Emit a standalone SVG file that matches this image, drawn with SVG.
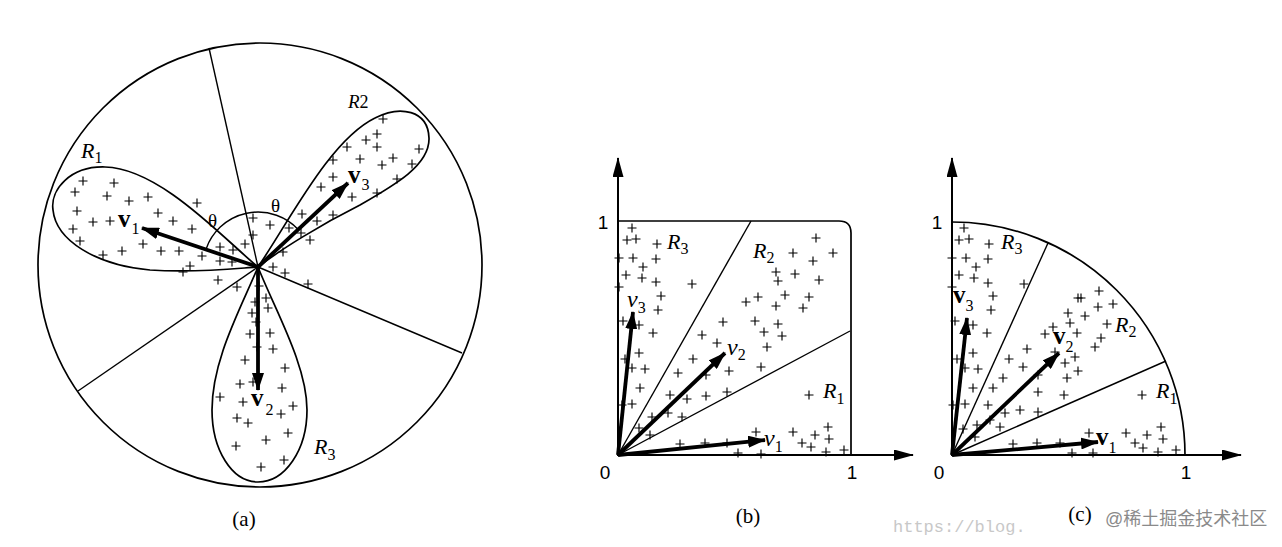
<svg xmlns="http://www.w3.org/2000/svg" xmlns:xlink="http://www.w3.org/1999/xlink" width="1282" height="547" viewBox="0 0 1282 547">
<style>
.thin{fill:none;stroke:#000;stroke-width:1.4}
.mid{fill:none;stroke:#000;stroke-width:1.7}
.axis{fill:none;stroke:#000;stroke-width:2}
.vec{fill:none;stroke:#000;stroke-width:3.8}
.pl{stroke:#000;stroke-width:1.15;fill:none}
.R{font-family:"Liberation Serif",serif;font-style:italic;font-size:22px}
.sub{font-family:"Liberation Serif",serif;font-style:normal;font-weight:normal;font-size:16px}
.vb{font-family:"Liberation Serif",serif;font-weight:bold;font-size:25px}
.vi{font-family:"Liberation Serif",serif;font-style:italic;font-size:24px}
.num{font-family:"Liberation Sans",sans-serif;font-size:19px}
.cap{font-family:"Liberation Serif",serif;font-size:21px}
.th{font-family:"Liberation Serif",serif;font-size:19px}
</style>
<defs>
<path id="p" class="pl" d="M-4.5 0H4.5M0 -4.5V4.5"/>
<marker id="ah" markerUnits="userSpaceOnUse" viewBox="0 0 18 12" refX="17" refY="6" markerWidth="18" markerHeight="12" orient="auto"><path d="M0 0L18 6L0 12z" fill="#000"/></marker>
<marker id="ax" markerUnits="userSpaceOnUse" viewBox="0 0 20 11" refX="19" refY="5.5" markerWidth="20" markerHeight="11" orient="auto"><path d="M0 0L20 5.5L0 11z" fill="#000"/></marker>
</defs>
<rect width="1282" height="547" fill="#fff"/>

<!-- Panel (a) -->
<g id="panel-a">
<circle class="mid" cx="260" cy="265" r="222"/>
<g id="a-sectors">
<line class="thin" x1="258" y1="267" x2="209" y2="48"/>
<line class="thin" x1="258" y1="267" x2="78" y2="391"/>
<line class="thin" x1="258" y1="267" x2="462" y2="353"/>
</g>
<g id="a-petal-R1"><path class="mid" d="M258 267C225 240 160 168 105 167C70 166 50 190 53 210C56 240 95 265 150 270C200 273 240 268 258 267Z"/></g>
<g id="a-petal-R2"><path class="mid" d="M258 267C290 220 330 140 375 118C400 105 428 110 429 138C430 165 395 185 360 205C320 225 280 250 258 267Z"/></g>
<g id="a-petal-R3"><path class="mid" d="M258 267C240 310 212 360 212 410C212 450 232 482 258 482C285 482 307 450 307 410C307 365 275 310 258 267Z"/></g>
<path class="thin" d="M206.1 248.9A55 55 0 0 1 298.2 229.5"/>
<g id="a-points">
<use href="#p" x="83" y="181"/><use href="#p" x="114" y="183"/><use href="#p" x="75" y="192"/><use href="#p" x="107" y="196"/><use href="#p" x="129" y="201"/><use href="#p" x="148" y="197"/><use href="#p" x="197" y="203"/><use href="#p" x="77" y="211"/><use href="#p" x="158" y="213"/><use href="#p" x="93" y="222"/><use href="#p" x="110" y="221"/><use href="#p" x="173" y="221"/><use href="#p" x="73" y="229"/><use href="#p" x="192" y="229"/><use href="#p" x="80" y="241"/><use href="#p" x="122" y="251"/><use href="#p" x="143" y="244"/><use href="#p" x="103" y="255"/><use href="#p" x="161" y="251"/><use href="#p" x="179" y="251"/><use href="#p" x="220" y="247"/><use href="#p" x="233" y="250"/><use href="#p" x="245" y="244"/><use href="#p" x="202" y="256"/><use href="#p" x="190" y="266"/><use href="#p" x="183" y="272"/><use href="#p" x="220" y="261"/><use href="#p" x="232" y="262"/><use href="#p" x="218" y="280"/><use href="#p" x="237" y="287"/><use href="#p" x="253" y="218"/><use href="#p" x="270" y="225"/><use href="#p" x="253" y="235"/>
<use href="#p" x="383" y="119"/><use href="#p" x="377" y="134"/><use href="#p" x="366" y="140"/><use href="#p" x="377" y="147"/><use href="#p" x="347" y="147"/><use href="#p" x="419" y="149"/><use href="#p" x="333" y="160"/><use href="#p" x="360" y="159"/><use href="#p" x="393" y="158"/><use href="#p" x="382" y="165"/><use href="#p" x="412" y="164"/><use href="#p" x="333" y="177"/><use href="#p" x="397" y="179"/><use href="#p" x="321" y="187"/><use href="#p" x="352" y="197"/><use href="#p" x="377" y="193"/><use href="#p" x="302" y="214"/><use href="#p" x="317" y="221"/><use href="#p" x="333" y="215"/><use href="#p" x="289" y="228"/><use href="#p" x="301" y="233"/><use href="#p" x="310" y="240"/><use href="#p" x="283" y="252"/><use href="#p" x="273" y="267"/><use href="#p" x="285" y="273"/><use href="#p" x="308" y="284"/>
<use href="#p" x="259" y="286"/><use href="#p" x="255" y="302"/><use href="#p" x="266" y="298"/><use href="#p" x="268" y="308"/><use href="#p" x="252" y="313"/><use href="#p" x="256" y="322"/><use href="#p" x="250" y="334"/><use href="#p" x="270" y="333"/><use href="#p" x="257" y="347"/><use href="#p" x="273" y="349"/><use href="#p" x="245" y="360"/><use href="#p" x="285" y="368"/><use href="#p" x="240" y="384"/><use href="#p" x="253" y="382"/><use href="#p" x="282" y="388"/><use href="#p" x="220" y="397"/><use href="#p" x="243" y="402"/><use href="#p" x="293" y="406"/><use href="#p" x="281" y="414"/><use href="#p" x="237" y="418"/><use href="#p" x="248" y="423"/><use href="#p" x="288" y="433"/><use href="#p" x="266" y="440"/><use href="#p" x="236" y="446"/><use href="#p" x="284" y="460"/><use href="#p" x="261" y="467"/>
</g>
<g id="a-vectors">
<line class="vec" x1="258" y1="267" x2="142" y2="228" marker-end="url(#ah)"/>
<line class="vec" x1="258" y1="267" x2="348" y2="183" marker-end="url(#ah)"/>
<line class="vec" x1="258" y1="267" x2="258" y2="390" marker-end="url(#ah)"/>
</g>
<text class="R" x="81" y="158">R<tspan class="sub" dy="5">1</tspan></text>
<text class="R" x="348" y="108" style="font-size:19px">R<tspan class="sub" style="font-size:18px">2</tspan></text>
<text class="R" x="314" y="454">R<tspan class="sub" dy="6">3</tspan></text>
<text class="vb" x="118" y="227">v<tspan class="sub" dx="1" dy="7">1</tspan></text>
<text class="vb" x="348" y="183">v<tspan class="sub" dx="1" dy="7">3</tspan></text>
<text class="vb" x="251" y="406">v<tspan class="sub" dx="2" dy="9">2</tspan></text>
<text class="th" x="208" y="227">θ</text>
<text class="th" x="271" y="212">θ</text>
<text class="cap" x="244" y="526" text-anchor="middle">(a)</text>
</g>

<!-- Panel (b) -->
<g id="panel-b">
<g id="b-axes">
<line class="axis" x1="618" y1="456" x2="618" y2="158" marker-end="url(#ax)"/>
<line class="axis" x1="617" y1="455" x2="913" y2="455" marker-end="url(#ax)"/>
</g>
<path class="mid" d="M618 221H839Q851 221 851 233V455"/>
<line class="thin" x1="618" y1="455" x2="751" y2="221"/>
<line class="thin" x1="618" y1="455" x2="850" y2="331"/>
<g id="b-points">
<use href="#p" x="632" y="228"/><use href="#p" x="627" y="240"/><use href="#p" x="636" y="239"/><use href="#p" x="657" y="244"/><use href="#p" x="619" y="258"/><use href="#p" x="633" y="258"/><use href="#p" x="656" y="259"/><use href="#p" x="643" y="267"/><use href="#p" x="626" y="275"/><use href="#p" x="642" y="278"/><use href="#p" x="656" y="282"/><use href="#p" x="692" y="284"/><use href="#p" x="619" y="287"/><use href="#p" x="661" y="296"/><use href="#p" x="746" y="302"/>
<use href="#p" x="658" y="310"/><use href="#p" x="623" y="321"/><use href="#p" x="639" y="325"/><use href="#p" x="653" y="333"/><use href="#p" x="723" y="322"/><use href="#p" x="702" y="335"/><use href="#p" x="717" y="343"/><use href="#p" x="639" y="353"/><use href="#p" x="625" y="359"/><use href="#p" x="632" y="368"/><use href="#p" x="645" y="369"/><use href="#p" x="693" y="359"/><use href="#p" x="678" y="373"/><use href="#p" x="729" y="371"/><use href="#p" x="706" y="375"/><use href="#p" x="640" y="388"/><use href="#p" x="670" y="395"/><use href="#p" x="687" y="399"/><use href="#p" x="706" y="396"/><use href="#p" x="727" y="392"/><use href="#p" x="632" y="404"/><use href="#p" x="622" y="405"/><use href="#p" x="652" y="417"/><use href="#p" x="668" y="413"/><use href="#p" x="682" y="417"/><use href="#p" x="639" y="428"/><use href="#p" x="650" y="435"/><use href="#p" x="680" y="444"/><use href="#p" x="705" y="443"/><use href="#p" x="727" y="443"/><use href="#p" x="738" y="453"/>
<use href="#p" x="816" y="238"/><use href="#p" x="793" y="253"/><use href="#p" x="813" y="261"/><use href="#p" x="833" y="253"/><use href="#p" x="776" y="272"/><use href="#p" x="778" y="281"/><use href="#p" x="795" y="274"/><use href="#p" x="819" y="280"/><use href="#p" x="758" y="297"/><use href="#p" x="776" y="306"/><use href="#p" x="785" y="295"/><use href="#p" x="809" y="297"/><use href="#p" x="803" y="308"/><use href="#p" x="755" y="321"/><use href="#p" x="764" y="332"/><use href="#p" x="778" y="324"/><use href="#p" x="782" y="336"/><use href="#p" x="767" y="347"/><use href="#p" x="761" y="367"/><use href="#p" x="809" y="395"/><use href="#p" x="756" y="432"/><use href="#p" x="793" y="432"/><use href="#p" x="802" y="443"/><use href="#p" x="815" y="435"/><use href="#p" x="828" y="427"/><use href="#p" x="829" y="439"/><use href="#p" x="811" y="447"/><use href="#p" x="826" y="452"/><use href="#p" x="844" y="450"/><use href="#p" x="761" y="454"/>
</g>
<g id="b-vectors">
<line class="vec" x1="618" y1="455" x2="633" y2="312" marker-end="url(#ah)"/>
<line class="vec" x1="618" y1="455" x2="725" y2="353" marker-end="url(#ah)"/>
<line class="vec" x1="618" y1="455" x2="765" y2="440" marker-end="url(#ah)"/>
</g>
<text class="R" x="667" y="249">R<tspan class="sub" dy="5">3</tspan></text>
<text class="R" x="753" y="258">R<tspan class="sub" dy="5">2</tspan></text>
<text class="R" x="823" y="398">R<tspan class="sub" dy="6">1</tspan></text>
<text class="vi" x="627" y="307">v<tspan class="sub" dy="6">3</tspan></text>
<text class="vi" x="727" y="355">v<tspan class="sub" dy="5">2</tspan></text>
<text class="vi" x="764" y="446">v<tspan class="sub" dy="6">1</tspan></text>
<text class="num" x="603" y="229" text-anchor="middle">1</text>
<text class="num" x="605" y="479" text-anchor="middle">0</text>
<text class="num" x="852" y="479" text-anchor="middle">1</text>
<text class="cap" x="748" y="523" text-anchor="middle">(b)</text>
</g>

<!-- Panel (c) -->
<g id="panel-c">
<g id="c-axes">
<line class="axis" x1="952" y1="456" x2="952" y2="158" marker-end="url(#ax)"/>
<line class="axis" x1="951" y1="455" x2="1241" y2="455" marker-end="url(#ax)"/>
</g>
<path class="mid" d="M952 222A233 233 0 0 1 1185 455"/>
<line class="thin" x1="952" y1="455" x2="1048" y2="243"/>
<line class="thin" x1="952" y1="455" x2="1166" y2="361"/>
<g id="c-points">
<use href="#p" x="964" y="228"/><use href="#p" x="959" y="240"/><use href="#p" x="969" y="239"/><use href="#p" x="989" y="244"/><use href="#p" x="952" y="258"/><use href="#p" x="966" y="258"/><use href="#p" x="988" y="259"/><use href="#p" x="976" y="267"/><use href="#p" x="959" y="275"/><use href="#p" x="974" y="278"/><use href="#p" x="988" y="283"/><use href="#p" x="1024" y="284"/><use href="#p" x="952" y="287"/><use href="#p" x="993" y="296"/><use href="#p" x="1078" y="298"/>
<use href="#p" x="991" y="310"/><use href="#p" x="955" y="321"/><use href="#p" x="973" y="325"/><use href="#p" x="987" y="333"/><use href="#p" x="1068" y="313"/><use href="#p" x="1070" y="323"/><use href="#p" x="1053" y="327"/><use href="#p" x="1045" y="334"/><use href="#p" x="1077" y="333"/><use href="#p" x="1027" y="349"/><use href="#p" x="1055" y="352"/><use href="#p" x="1075" y="357"/><use href="#p" x="973" y="353"/><use href="#p" x="957" y="359"/><use href="#p" x="965" y="368"/><use href="#p" x="978" y="369"/><use href="#p" x="1009" y="359"/><use href="#p" x="1023" y="367"/><use href="#p" x="1065" y="363"/><use href="#p" x="1078" y="371"/><use href="#p" x="1003" y="378"/><use href="#p" x="1038" y="375"/><use href="#p" x="1067" y="378"/><use href="#p" x="973" y="388"/><use href="#p" x="993" y="388"/><use href="#p" x="1038" y="392"/><use href="#p" x="1064" y="395"/><use href="#p" x="965" y="404"/><use href="#p" x="953" y="405"/><use href="#p" x="988" y="405"/><use href="#p" x="1020" y="410"/><use href="#p" x="1005" y="413"/><use href="#p" x="1038" y="412"/><use href="#p" x="977" y="425"/><use href="#p" x="1000" y="427"/><use href="#p" x="990" y="420"/><use href="#p" x="963" y="429"/><use href="#p" x="975" y="437"/><use href="#p" x="1013" y="444"/><use href="#p" x="1037" y="443"/><use href="#p" x="1060" y="443"/><use href="#p" x="1072" y="453"/>
<use href="#p" x="1099" y="291"/><use href="#p" x="1081" y="298"/><use href="#p" x="1113" y="304"/><use href="#p" x="1098" y="307"/><use href="#p" x="1085" y="316"/><use href="#p" x="1107" y="324"/><use href="#p" x="1101" y="338"/><use href="#p" x="1095" y="347"/><use href="#p" x="1142" y="395"/><use href="#p" x="1089" y="433"/><use href="#p" x="1126" y="433"/><use href="#p" x="1135" y="443"/><use href="#p" x="1147" y="435"/><use href="#p" x="1143" y="448"/><use href="#p" x="1161" y="427"/><use href="#p" x="1163" y="439"/><use href="#p" x="1158" y="452"/><use href="#p" x="1176" y="450"/><use href="#p" x="1093" y="453"/>
</g>
<g id="c-vectors">
<line class="vec" x1="952" y1="455" x2="967" y2="318" marker-end="url(#ah)"/>
<line class="vec" x1="952" y1="455" x2="1059" y2="353" marker-end="url(#ah)"/>
<line class="vec" x1="952" y1="455" x2="1098" y2="442" marker-end="url(#ah)"/>
</g>
<text class="R" x="1001" y="249">R<tspan class="sub" dy="5">3</tspan></text>
<text class="R" x="1115" y="332">R<tspan class="sub" dy="5">2</tspan></text>
<text class="R" x="1156" y="398">R<tspan class="sub" dy="6">1</tspan></text>
<text class="vb" x="953" y="303">v<tspan class="sub" dy="8">3</tspan></text>
<text class="vb" x="1053" y="344">v<tspan class="sub" dy="8">2</tspan></text>
<text class="vb" x="1096" y="445">v<tspan class="sub" dy="8">1</tspan></text>
<text class="num" x="937" y="229" text-anchor="middle">1</text>
<text class="num" x="939" y="479" text-anchor="middle">0</text>
<text class="num" x="1186" y="479" text-anchor="middle">1</text>
<text class="cap" x="1080" y="521" text-anchor="middle">(c)</text>
</g>

<g id="watermark">
<text x="893" y="532" style="font-family:'Liberation Mono',monospace;font-size:17px;fill:#c8c8c8">https://blog.</text>
<text x="1105" y="525" style="font-family:'Liberation Sans','Noto Sans CJK SC',sans-serif;font-size:18px;fill:#8a8a8a;stroke:#fff;stroke-width:0.6;paint-order:stroke">@稀土掘金技术社区</text>
</g>
</svg>
